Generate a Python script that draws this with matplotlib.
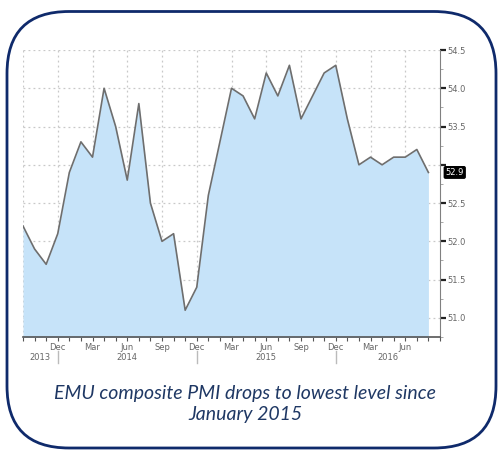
import numpy as np
import pandas as pd
import matplotlib
matplotlib.use("Agg")
import matplotlib.pyplot as plt
from matplotlib.patches import FancyBboxPatch
from matplotlib.transforms import IdentityTransform, blended_transform_factory
from matplotlib import font_manager

# EMU composite PMI, monthly Sep 2013 - Aug 2016
months = pd.date_range("2013-09-01", "2016-08-01", freq="MS")
pmi = [52.2, 51.9, 51.7, 52.1,
       52.9, 53.3, 53.1, 54.0, 53.5, 52.8, 53.8, 52.5, 52.0, 52.1, 51.1, 51.4,
       52.6, 53.3, 54.0, 53.9, 53.6, 54.2, 53.9, 54.3, 53.6, 53.9, 54.2, 54.3,
       53.6, 53.0, 53.1, 53.0, 53.1, 53.1, 53.2, 52.9]
y_ticks = [51.0, 51.5, 52.0, 52.5, 53.0, 53.5, 54.0, 54.5]
years = ["2013", "2014", "2015", "2016"]
caption = "EMU composite PMI drops to lowest level since\nJanuary 2015"

W, H = 498, 450
fig = plt.figure(figsize=(W / 100, H / 100), dpi=100)
fig.patch.set_facecolor("white")

# rounded frame in pixel coords
frame = FancyBboxPatch((7 + 62, H - 448 + 62), 489 - 124, 436.5 - 124,
                       boxstyle="round,pad=62", transform=IdentityTransform(),
                       facecolor="none", edgecolor="#0f2a6b", linewidth=2.0,
                       zorder=0)
fig.patches.append(frame)

ax = fig.add_axes([23 / W, 1 - 337 / H, (440 - 23) / W, (337 - 50) / H])
x = np.arange(len(pmi))
ax.fill_between(x, pmi, 50.0, color="#c6e3f9", linewidth=0, zorder=2)
ax.plot(x, pmi, color="#6e6e6e", linewidth=1.2, zorder=3)

ax.set_xlim(0, len(pmi))
ax.set_ylim(50.78, 54.5)

# grid
for v in y_ticks:
    ax.axhline(v, color="#c8c8c8", linestyle=(0, (1.5, 2.5)), linewidth=0.9, zorder=1)
for q in range(0, len(pmi), 3):
    ax.axvline(q, color="#c8c8c8", linestyle=(0, (1.5, 2.5)), linewidth=0.9, zorder=1)

for s in ["top", "left"]:
    ax.spines[s].set_visible(False)
ax.spines["right"].set_color("#808080")
ax.spines["bottom"].set_color("#555555")
ax.spines["bottom"].set_linewidth(1.2)

# narrow font if available
names = {f.name for f in font_manager.fontManager.ttflist}
narrow = "Liberation Sans Narrow" if "Liberation Sans Narrow" in names else "DejaVu Sans"
font_narrow = [narrow, "DejaVu Sans"]
lab_size = 6.5 if narrow != "DejaVu Sans" else 6

# right axis
ax.yaxis.tick_right()
ax.set_yticks(y_ticks)
ax.set_yticklabels([f"{v:.1f}" for v in y_ticks])
ax.set_yticks(np.arange(50.75, 54.5, 0.25), minor=True)
ax.tick_params(axis="y", which="major", length=4, width=1.6, color="#222222",
               labelsize=lab_size, labelcolor="#666666", pad=1)
ax.tick_params(axis="y", which="minor", length=2, width=0.6, color="#999999")

# x axis: month ticks, quarter labels
qpos = [i for i, m in enumerate(months) if m.month in (3, 6, 9, 12) and i > 0]
ax.set_xticks(qpos)
ax.set_xticklabels([months[i].strftime("%b") for i in qpos])
ax.set_xticks(np.arange(0, len(pmi) + 1), minor=True)
ax.tick_params(axis="x", which="major", length=3, width=0.8, color="#555555",
               labelsize=lab_size, labelcolor="#666666", pad=1)
ax.tick_params(axis="x", which="minor", length=3, width=0.8, color="#555555")

for lab in ax.get_xticklabels() + ax.get_yticklabels():
    lab.set_family(font_narrow)

# year labels and separators
trans = blended_transform_factory(ax.transData, ax.transAxes)
dec_idx = [i for i, m in enumerate(months) if m.month == 12]
bounds = [0] + dec_idx + [len(pmi)]
for k, yr in enumerate(years):
    ax.text((bounds[k] + bounds[k + 1]) / 2, -0.07, yr, transform=trans,
            ha="center", va="center", fontsize=lab_size, color="#666666",
            family=font_narrow)
for d in dec_idx:
    ax.plot([d, d], [-0.05, -0.09], transform=trans, color="#bbbbbb",
            linewidth=1.0, clip_on=False)

# last value tag (covers the 53.0 label as in the source)
ax.yaxis.get_major_ticks()[4].label2.set_visible(False)
ax.annotate(f"{pmi[-1]:.1f}", xy=(1.0, pmi[-1]), xycoords=("axes fraction", "data"),
            xytext=(4, 0), textcoords="offset points", ha="left", va="center",
            fontsize=lab_size, color="white", family=font_narrow,
            bbox=dict(boxstyle="round,pad=0.15", facecolor="black", edgecolor="black"),
            annotation_clip=False, zorder=5)

fig.text(245 / W, 1 - 404 / H, caption, ha="center", va="center",
         fontsize=14, style="italic", color="#1f3864", family=["Lato", "DejaVu Sans"],
         linespacing=1.3)

fig.savefig("out.png", dpi=100, facecolor="white")
